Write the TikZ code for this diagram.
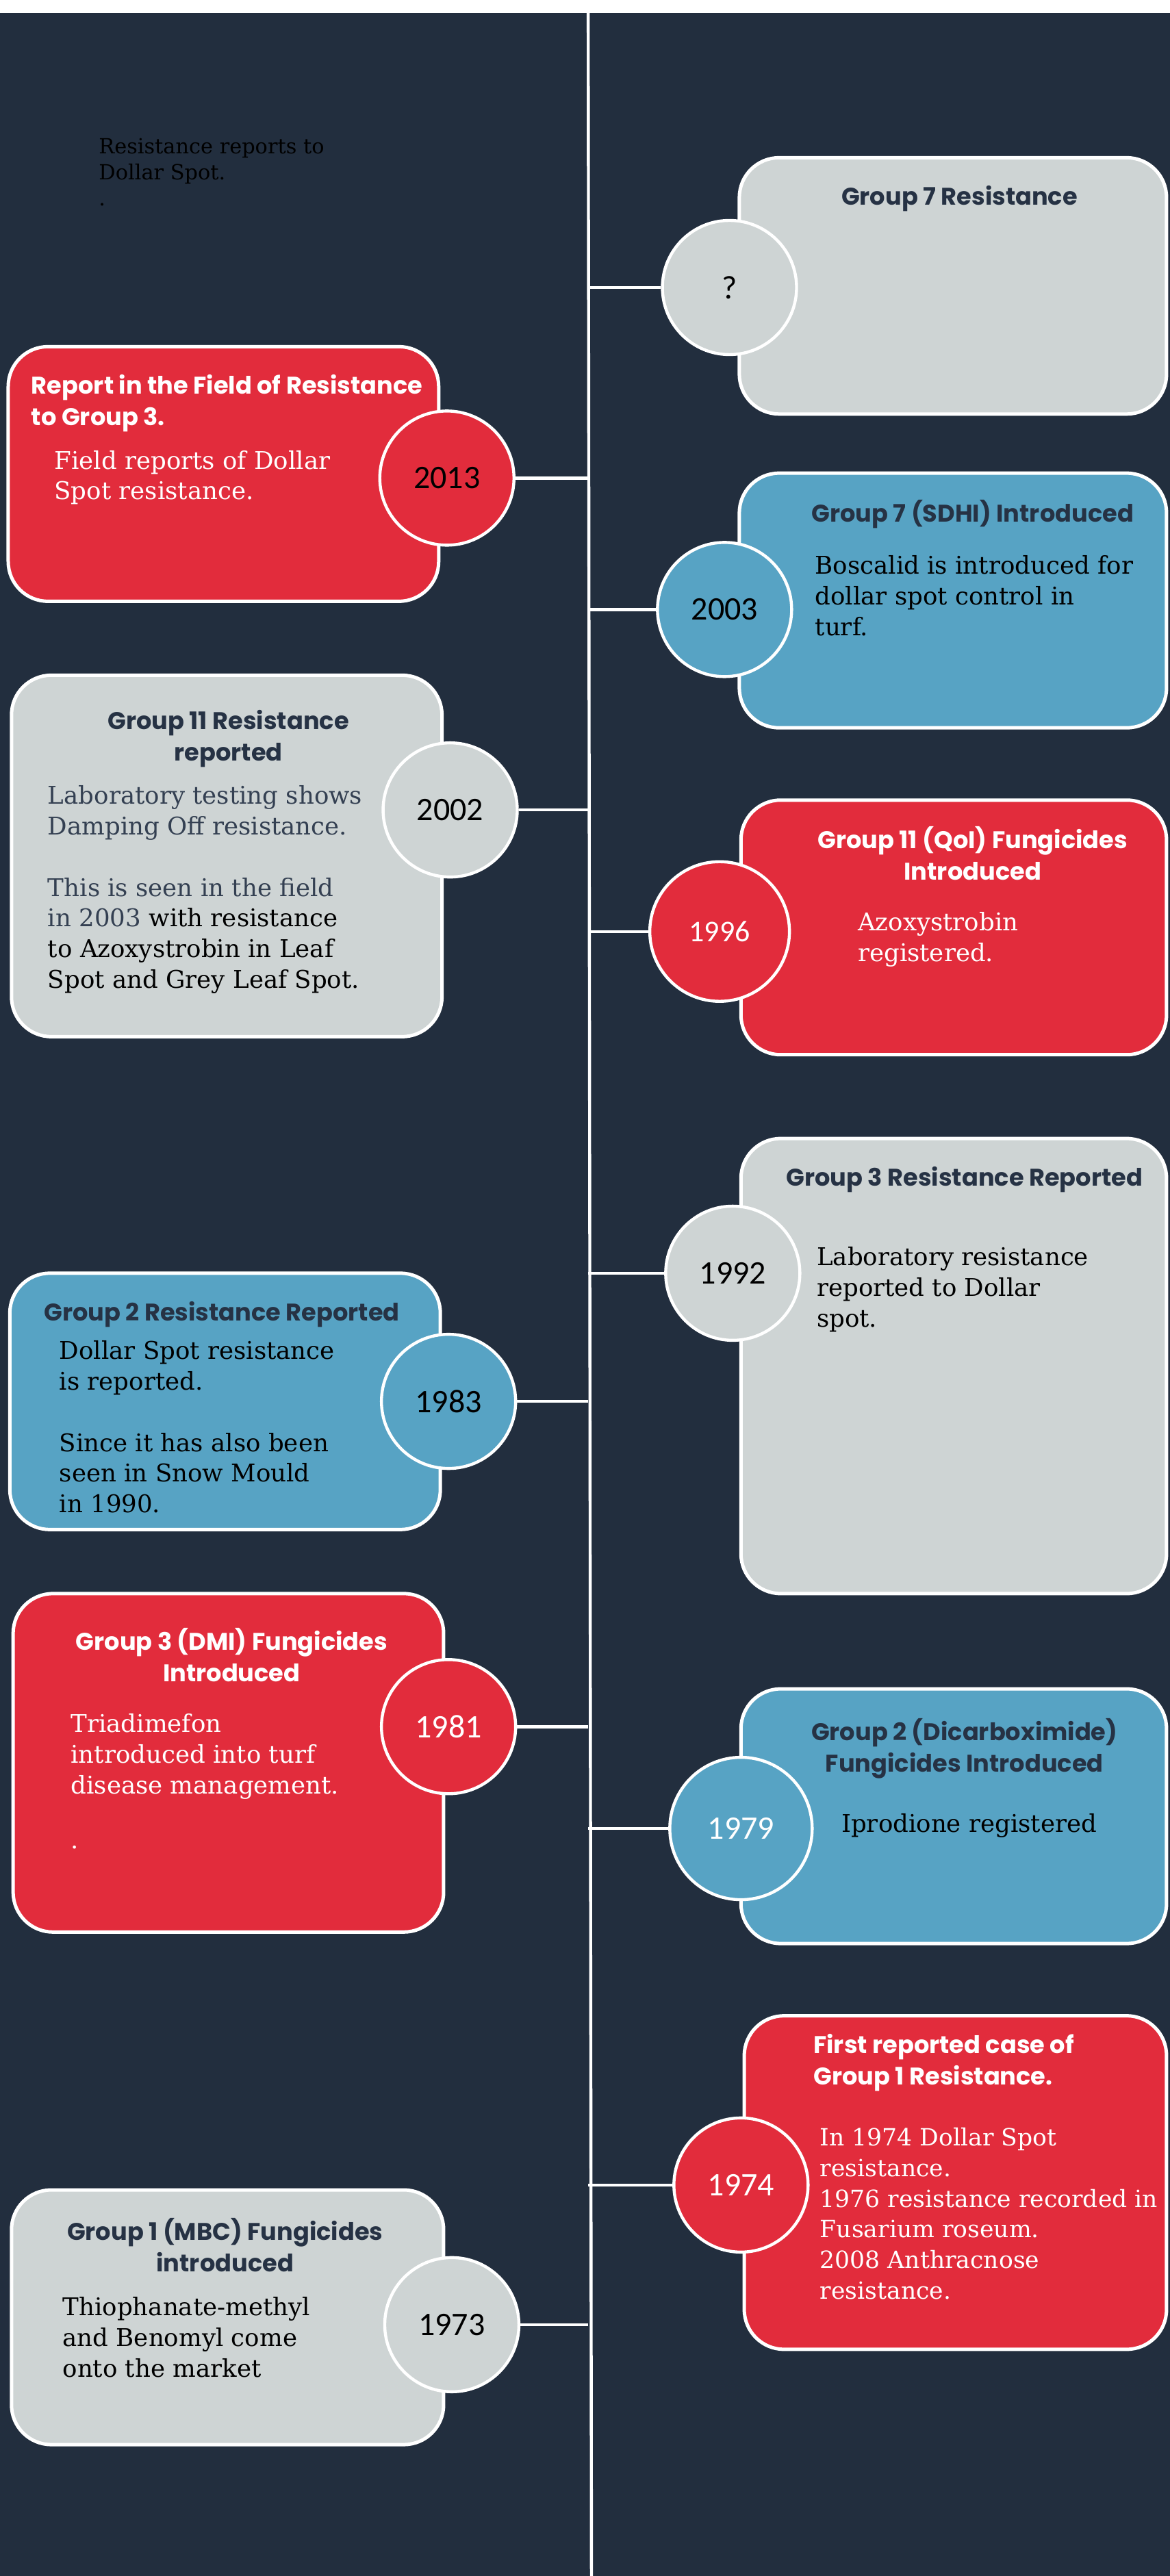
\documentclass[tikz,border=0pt]{standalone}
\usepackage{fontspec}
\setmainfont{DejaVu Serif}
\newfontfamily\headfont{Poppins}
\newfontfamily\yearfont{Carlito}
\definecolor{cbg}{RGB}{34,46,62}
\definecolor{cred}{RGB}{226,44,60}
\definecolor{cblue}{RGB}{87,163,196}
\definecolor{cgrey}{RGB}{206,212,212}
\definecolor{cnavy}{RGB}{38,50,68}
\definecolor{cslate}{RGB}{52,64,82}
\begin{document}
\begin{tikzpicture}[x=1.2pt, y=-1.2pt, line join=round,
	card/.style={draw=white, line width=2.5pt, rounded corners=29pt},
	link/.style={draw=white, line width=2.2pt},
	yr/.style={circle, draw=white, line width=2.2pt, minimum size=98pt, inner sep=0pt, font=\yearfont\fontsize{24}{28}\selectfont},
	head/.style={inner sep=0pt, align=center, font=\headfont\bfseries\fontsize{17.6}{23}\selectfont},
	body/.style={inner sep=0pt, align=left, anchor=north west, font=\fontsize{17.8}{22.4}\selectfont}]
			\useasboundingbox (0,0) rectangle (712,1568);
			\fill[white] (0,0) rectangle (712,1568);
			\fill[cbg] (0,8) rectangle (712,1568);
			\coordinate (top) at (358,8);
			\coordinate (bot) at (360,1568);
			\draw[link] (top) -- (bot);
			% note
			\node[body, font=\fontsize{15.2}{19}\selectfont, text=black] (note) at (60,84) {Resistance reports to\\Dollar Spot.\\.};
			% right column
			\draw[card, fill=cgrey] (450,96) rectangle (710,252);
			\node[head, text=cnavy, anchor=north] (h7res) at (584,113) {Group 7 Resistance};
			\node[yr, fill=cgrey] (yq) at (444,175) {?};
			\draw[card, fill=cblue] (450,288) rectangle (710,443);
			\node[head, text=cnavy, anchor=north] (h7sdhi) at (592,304) {Group 7 (SDHI) Introduced};
			\node[body] (t7sdhi) at (496,338) {Boscalid is introduced for\\dollar spot control in\\turf.};
			\node[yr, fill=cblue] (y2003) at (441,371) {2003};
			\draw[card, fill=cred] (451,487) rectangle (710,642);
			\node[head, text=white, anchor=north] (h11qoi) at (592,503) {Group 11 (QoI) Fungicides\\Introduced};
			\node[body, text=white] (t11qoi) at (522,555) {Azoxystrobin\\registered.};
			\node[yr, fill=cred, text=white, minimum size=102pt, font=\yearfont\fontsize{22}{26}\selectfont] (y1996) at (438,567) {1996};
			\draw[card, fill=cgrey] (451,693) rectangle (710,970);
			\node[head, text=cnavy, anchor=north] (h3res) at (587,710) {Group 3 Resistance Reported};
			\node[body] (t3res) at (497,759) {Laboratory resistance\\reported to Dollar\\spot.};
			\node[yr, fill=cgrey] (y1992) at (446,775) {1992};
			\draw[card, fill=cblue] (451,1028) rectangle (710,1183);
			\node[head, text=cnavy, anchor=north] (h2dic) at (587,1046) {Group 2 (Dicarboximide)\\Fungicides Introduced};
			\node[body] (t2dic) at (512,1104) {Iprodione registered};
			\node[yr, fill=cblue, text=white, minimum size=104pt] (y1979) at (451,1113) {1979};
			\draw[card, fill=cred] (453,1227) rectangle (710,1430);
			\node[head, text=white, anchor=north west, align=left] (h1res) at (495,1238) {First reported case of\\Group 1 Resistance.};
			\node[body, text=white, font=\fontsize{17.3}{22.4}\selectfont] (t1res) at (499,1295) {In 1974 Dollar Spot\\resistance.\\1976 resistance recorded in\\Fusarium roseum.\\2008 Anthracnose\\resistance.};
			\node[yr, fill=cred, text=white] (y1974) at (451,1330) {1974};
			% left column
			\draw[card, fill=cred] (5,211) rectangle (267,366);
			\node[head, text=white, anchor=north west, align=left] (hfield) at (19,228) {Report in the Field of Resistance\\to Group 3.};
			\node[body, text=white] (tfield) at (33,274) {Field reports of Dollar\\Spot resistance.};
			\node[yr, fill=cred] (y2013) at (272,291) {2013};
			\draw[card, fill=cgrey] (7,411) rectangle (269,631);
			\node[head, text=cnavy, anchor=north] (h11res) at (139,432) {Group 11 Resistance\\reported};
			\node[body] (t11res) at (29,478) {\textcolor{cslate}{Laboratory testing shows}\\\textcolor{cslate}{Damping Off resistance.}\\[22.4pt]\textcolor{cslate}{This is seen in the field}\\\textcolor{cslate}{in 2003} with resistance\\to Azoxystrobin in Leaf\\Spot and Grey Leaf Spot.};
			\node[yr, fill=cgrey] (y2002) at (274,493) {2002};
			\draw[card, fill=cblue] (6,775) rectangle (268,931);
			\node[head, text=cnavy, anchor=north] (h2res) at (135,792) {Group 2 Resistance Reported};
			\node[body] (t2res) at (36,816) {Dollar Spot resistance\\is reported.\\[22.4pt]Since it has also been\\seen in Snow Mould\\in 1990.};
			\node[yr, fill=cblue] (y1983) at (273,853) {1983};
			\draw[card, fill=cred] (8,970) rectangle (270,1176);
			\node[head, text=white, anchor=north] (h3dmi) at (141,991) {Group 3 (DMI) Fungicides\\Introduced};
			\node[body, text=white] (t3dmi) at (43,1043) {Triadimefon\\introduced into turf\\disease management.\\[18pt].};
			\node[yr, fill=cred, text=white] (y1981) at (273,1051) {1981};
			\draw[card, fill=cgrey] (7,1333) rectangle (270,1488);
			\node[head, text=cnavy, anchor=north] (h1mbc) at (137,1350) {Group 1 (MBC) Fungicides\\introduced};
			\node[body] (t1mbc) at (38,1398) {Thiophanate-methyl\\and Benomyl come\\onto the market};
			\node[yr, fill=cgrey] (y1973) at (275,1415) {1973};
			% connectors
			\foreach \c in {yq,y2003,y1996,y1992,y1979,y1974}\draw[link] (\c.west) -- (\c.west -| top);
			\foreach \c in {y2013,y2002,y1983,y1981,y1973}\draw[link] (\c.east) -- (\c.east -| top);
\end{tikzpicture}
\end{document}
